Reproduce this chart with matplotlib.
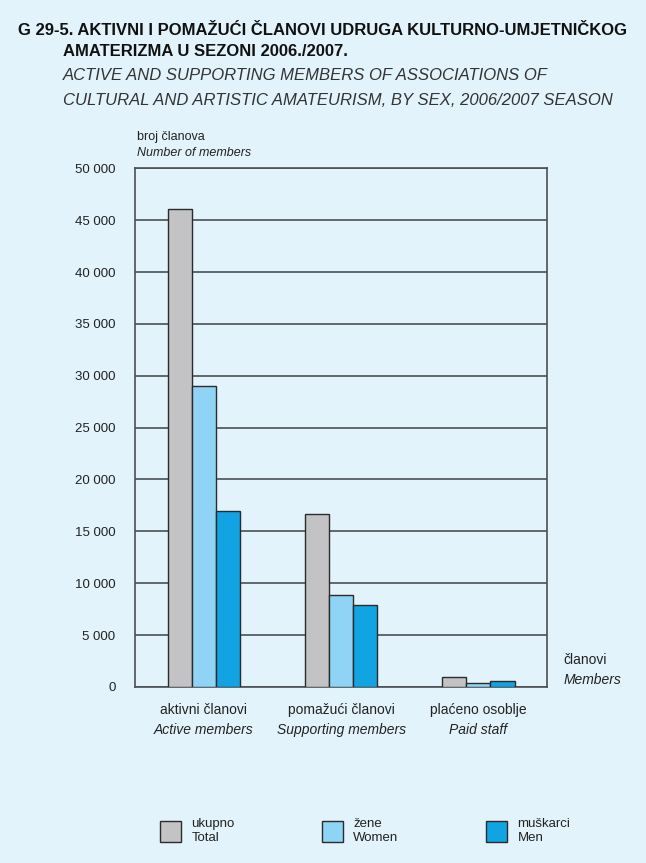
import matplotlib
matplotlib.use('Agg')
import matplotlib.pyplot as plt
import numpy as np

BG = '#e2f3fb'
GREY = '#c3c3c5'
LIGHT = '#8fd4f5'
BLUE = '#12a4e2'
EDGE = '#2b2b2b'
GRID = '#4a5054'
TXT = '#222222'

plt.rcParams['font.family'] = ['Liberation Sans', 'DejaVu Sans']
plt.rcParams['font.size'] = 9

categories_hr = ['aktivni članovi', 'pomažući članovi', 'plaćeno osoblje']
categories_en = ['Active members', 'Supporting members', 'Paid staff']
total = [46100, 16700, 950]
women = [29000, 8900, 380]
men = [17000, 7900, 570]
series_hr = ['ukupno', 'žene', 'muškarci']
series_en = ['Total', 'Women', 'Men']
yticks = np.arange(0, 50001, 5000)

fig = plt.figure(figsize=(6.46, 8.63), dpi=100, facecolor=BG)
ax = fig.add_axes([0.209, 0.204, 0.638, 0.601], facecolor=BG)

x = np.arange(len(categories_hr))
w = 0.175
b1 = ax.bar(x - w, total, w, color=GREY, edgecolor=EDGE, linewidth=1.0, zorder=3)
b2 = ax.bar(x, women, w, color=LIGHT, edgecolor=EDGE, linewidth=1.0, zorder=3)
b3 = ax.bar(x + w, men, w, color=BLUE, edgecolor=EDGE, linewidth=1.0, zorder=3)

ax.set_xlim(-0.5, 2.5)
ax.set_ylim(0, 50000)
ax.set_yticks(yticks)
ax.set_yticklabels([f'{v:,}'.replace(',', ' ') for v in yticks], color=TXT, fontsize=9.5)
ax.tick_params(axis='y', length=0, pad=14)
ax.set_xticks([])
ax.grid(axis='y', color=GRID, linewidth=1.2, zorder=1)
for s in ax.spines.values():
    s.set_color(GRID)
    s.set_linewidth(1.2)

# two-line category labels under each group
for i in x:
    ax.text(i, -1500, categories_hr[i], ha='center', va='top', fontsize=10, color=TXT)
    ax.text(i, -3500, categories_en[i], ha='center', va='top', fontsize=10, color=TXT, style='italic')

ax.text(1.04, 0.052, 'članovi', transform=ax.transAxes, ha='left', va='center', fontsize=10, color=TXT)
ax.text(1.04, 0.014, 'Members', transform=ax.transAxes, ha='left', va='center', fontsize=10, color=TXT, style='italic')

# axis caption above the plot
fig.text(0.212, 0.838, 'broj članova', fontsize=9, color=TXT)
fig.text(0.212, 0.819, 'Number of members', fontsize=9, color=TXT, style='italic')

# titles
fig.text(0.028, 0.965, 'G 29-5. AKTIVNI I POMAŽUĆI ČLANOVI UDRUGA KULTURNO-UMJETNIČKOG',
         fontsize=12, fontweight='bold', color='#111111', va='center')
fig.text(0.098, 0.940, 'AMATERIZMA U SEZONI 2006./2007.',
         fontsize=12, fontweight='bold', color='#111111', va='center')
fig.text(0.098, 0.912, 'ACTIVE AND SUPPORTING MEMBERS OF ASSOCIATIONS OF',
         fontsize=12, style='italic', color='#333333', va='center')
fig.text(0.098, 0.884, 'CULTURAL AND ARTISTIC AMATEURISM, BY SEX, 2006/2007 SEASON',
         fontsize=12, style='italic', color='#333333', va='center')

leg = fig.legend([b1, b2, b3], [f'{h}\n{e}' for h, e in zip(series_hr, series_en)],
                 loc='center', bbox_to_anchor=(0.565, 0.037), ncol=3, frameon=False,
                 handlelength=1.6, handleheight=2.0, handletextpad=0.8,
                 columnspacing=6.6, fontsize=9.5, labelcolor=TXT)

fig.savefig('out.png', dpi=100, facecolor=BG)
